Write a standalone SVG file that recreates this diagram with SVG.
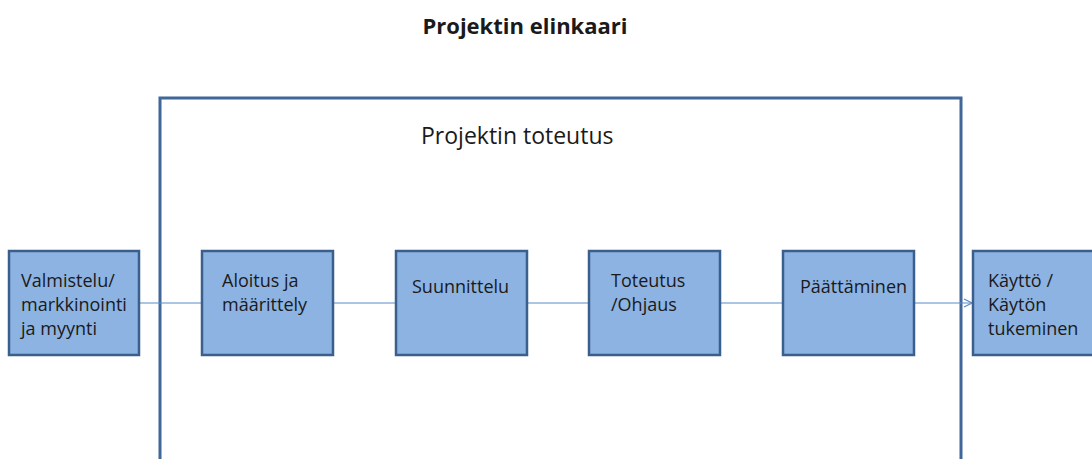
<svg xmlns="http://www.w3.org/2000/svg" width="1092" height="459" viewBox="0 0 1092 459">
<defs>
<style>
.box{fill:#8db3e2;stroke:#3b5f8c;stroke-width:2.5}
.lbl{font-family:"Open Sans","Noto Sans","Liberation Sans",sans-serif;font-size:18px;fill:#1a1a1a}
.conn{stroke:#5b8bc6;stroke-width:1.2;fill:none}
</style>
<marker id="arr" viewBox="0 0 10 10" refX="9" refY="5" markerWidth="10" markerHeight="10" markerUnits="userSpaceOnUse" orient="auto">
<path d="M1,1 L9,5 L1,9" fill="none" stroke="#5b8bc6" stroke-width="1.2"/>
</marker>
</defs>
<rect width="1092" height="459" fill="#ffffff"/>
<text x="525" y="34" text-anchor="middle" font-family="'Open Sans','Noto Sans','Liberation Sans',sans-serif" font-size="22" font-weight="bold" fill="#1a1a1a">Projektin elinkaari</text>
<g id="frame">
<path d="M160,470 L160,98 L961,98 L961,470" fill="none" stroke="#41679a" stroke-width="3"/>
<text x="421" y="144" font-family="'Open Sans','Noto Sans','Liberation Sans',sans-serif" font-size="23" fill="#1a1a1a">Projektin toteutus</text>
</g>
<g id="connectors">
<line class="conn" x1="140" y1="303" x2="202" y2="303"/>
<line class="conn" x1="333" y1="303" x2="396" y2="303"/>
<line class="conn" x1="527" y1="303" x2="589" y2="303"/>
<line class="conn" x1="720" y1="303" x2="783" y2="303"/>
<line class="conn" x1="914" y1="303" x2="972" y2="303" marker-end="url(#arr)"/>
</g>
<g id="n1"><rect class="box" x="9" y="251" width="130" height="104"/>
<text class="lbl" x="21" y="287">Valmistelu/</text><text class="lbl" x="21" y="311">markkinointi</text><text class="lbl" x="21" y="335">ja myynti</text></g>
<g id="n2"><rect class="box" x="202" y="251" width="131" height="104"/>
<text class="lbl" x="222" y="287">Aloitus ja</text><text class="lbl" x="222" y="311">määrittely</text></g>
<g id="n3"><rect class="box" x="396" y="251" width="131" height="104"/>
<text class="lbl" x="412" y="293">Suunnittelu</text></g>
<g id="n4"><rect class="box" x="589" y="251" width="131" height="104"/>
<text class="lbl" x="611" y="287">Toteutus</text><text class="lbl" x="611" y="311">/Ohjaus</text></g>
<g id="n5"><rect class="box" x="783" y="251" width="131" height="104"/>
<text class="lbl" x="800" y="293">Päättäminen</text></g>
<g id="n6"><rect class="box" x="973" y="251" width="130" height="104"/>
<text class="lbl" x="988" y="287">Käyttö /</text><text class="lbl" x="988" y="311">Käytön</text><text class="lbl" x="988" y="335">tukeminen</text></g>
</svg>
